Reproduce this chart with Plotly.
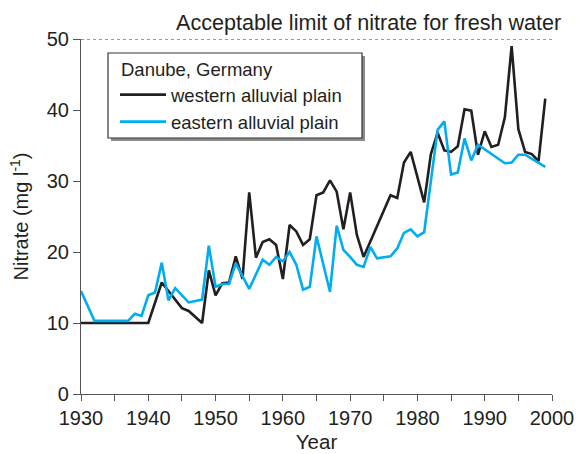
import plotly.graph_objects as go

# ---- data ----
west_years = [1930, 1940, 1942, 1945, 1946, 1948, 1949, 1950, 1951, 1952, 1953, 1954,
              1955, 1956, 1957, 1958, 1959, 1960, 1961, 1962, 1963, 1964, 1965, 1966,
              1967, 1968, 1969, 1970, 1971, 1972, 1976, 1977, 1978, 1979, 1981, 1982,
              1983, 1984, 1985, 1986, 1987, 1988, 1989, 1990, 1991, 1992, 1993, 1994,
              1995, 1996, 1997, 1998, 1999]
west_nitrate = [10.0, 10.0, 15.7, 12.1, 11.7, 10.0, 17.4, 13.9, 15.6, 15.7, 19.4, 16.2,
                28.4, 19.2, 21.4, 21.8, 21.0, 16.2, 23.8, 22.9, 21.0, 21.8, 28.0, 28.4,
                30.1, 28.5, 23.2, 28.4, 22.4, 19.3, 28.0, 27.6, 32.6, 34.1, 27.0, 33.8,
                36.8, 34.3, 34.1, 34.9, 40.1, 39.9, 33.7, 37.0, 34.8, 35.1, 39.0, 49.0,
                37.3, 34.1, 33.8, 32.8, 41.6]

east_years = [1930, 1932, 1937, 1938, 1939, 1940, 1941, 1942, 1943, 1944, 1946, 1948,
              1949, 1950, 1951, 1952, 1953, 1954, 1955, 1957, 1958, 1959, 1960, 1961,
              1962, 1963, 1964, 1965, 1967, 1968, 1969, 1970, 1971, 1972, 1973, 1974,
              1976, 1977, 1978, 1979, 1980, 1981, 1983, 1984, 1985, 1986, 1987, 1988,
              1989, 1993, 1994, 1995, 1996, 1999]
east_nitrate = [14.5, 10.3, 10.3, 11.3, 11.0, 13.9, 14.3, 18.5, 13.2, 14.9, 12.9, 13.3,
                20.9, 15.1, 15.5, 15.5, 18.4, 16.5, 14.8, 18.9, 18.2, 19.3, 18.7, 20.0,
                18.2, 14.7, 15.1, 22.2, 14.4, 23.7, 20.3, 19.3, 18.2, 17.9, 20.7, 19.1,
                19.4, 20.5, 22.7, 23.2, 22.2, 22.8, 37.2, 38.4, 30.9, 31.2, 36.0, 32.9,
                35.1, 32.5, 32.6, 33.7, 33.7, 32.0]

LIMIT = 50
limit_label = "Acceptable limit of nitrate for fresh water"
legend_title = "Danube, Germany"
west_name = "western alluvial plain"
east_name = "eastern alluvial plain"
x_tick_vals = [1930, 1940, 1950, 1960, 1970, 1980, 1990, 2000]
y_tick_vals = [0, 10, 20, 30, 40, 50]

TXT = "#231f20"
FONT = "Liberation Sans, Arial, sans-serif"

# plot-area geometry in pixels (used only for paper-coordinate placement)
PL, PR, PT, PB = 81, 552, 39, 394
PW, PH = PR - PL, PB - PT


def px(x):
    return (x - PL) / PW


def py(y):
    return (PB - y) / PH


fig = go.Figure()
fig.add_trace(go.Scatter(x=west_years, y=west_nitrate, mode="lines", name=west_name,
                         line=dict(color="#231f20", width=2.6)))
fig.add_trace(go.Scatter(x=east_years, y=east_nitrate, mode="lines", name=east_name,
                         line=dict(color="#00aeef", width=2.6)))

# limit line
fig.add_shape(type="line", xref="paper", x0=0, x1=1, yref="y", y0=LIMIT, y1=LIMIT,
              line=dict(color="#777777", width=1.3, dash="dot"), layer="below")
fig.add_annotation(text=limit_label, xref="paper", x=px(563), xanchor="right",
                   yref="paper", y=py(22), yanchor="middle", showarrow=False,
                   font=dict(size=21.6, color=TXT, family=FONT))

# legend frame with drop shadow
fig.add_shape(type="rect", xref="paper", yref="paper",
              x0=px(111), x1=px(365), y0=py(141), y1=py(56),
              fillcolor="#8c8c8c", line=dict(width=0), layer="above")
fig.add_shape(type="rect", xref="paper", yref="paper",
              x0=px(108), x1=px(362), y0=py(138), y1=py(53),
              fillcolor="white", line=dict(color="#333333", width=1.2), layer="above")

fig.update_layout(
    width=579, height=454,
    margin=dict(l=PL, r=579 - PR, t=PT, b=454 - PB),
    paper_bgcolor="white", plot_bgcolor="white",
    font=dict(family=FONT, size=20, color=TXT),
    showlegend=True,
    legend=dict(
        x=px(119), xanchor="left",
        y=py(52), yanchor="top",
        bgcolor="rgba(0,0,0,0)", borderwidth=0,
        font=dict(size=18.5, color=TXT, family=FONT),
        title=dict(text=legend_title, font=dict(size=18.5, color=TXT, family=FONT)),
        itemwidth=46, indentation=-4, tracegroupgap=0,
    ),
    xaxis=dict(
        range=[1930, 2000], tickvals=x_tick_vals, ticks="outside", ticklen=6,
        tickcolor="#555555", showline=True, linecolor="#555555", linewidth=1.2,
        showgrid=False, zeroline=False, automargin=False,
        minor=dict(dtick=5, ticks="outside", ticklen=6, tickcolor="#555555", showgrid=False),
        title=dict(text="Year", standoff=6, font=dict(size=20.5)),
        tickfont=dict(size=20),
    ),
    yaxis=dict(
        range=[0, 50], tickvals=y_tick_vals, ticks="outside", ticklen=7,
        tickcolor="#555555", showline=True, linecolor="#555555", linewidth=1.2,
        showgrid=False, zeroline=False, automargin=False,
        title=dict(text="Nitrate (mg l<sup>-1</sup>)", standoff=12, font=dict(size=20)),
        tickfont=dict(size=20),
    ),
)

fig.write_html("out.html", config={"displayModeBar": False},
               post_script="document.body.style.margin='0';")
